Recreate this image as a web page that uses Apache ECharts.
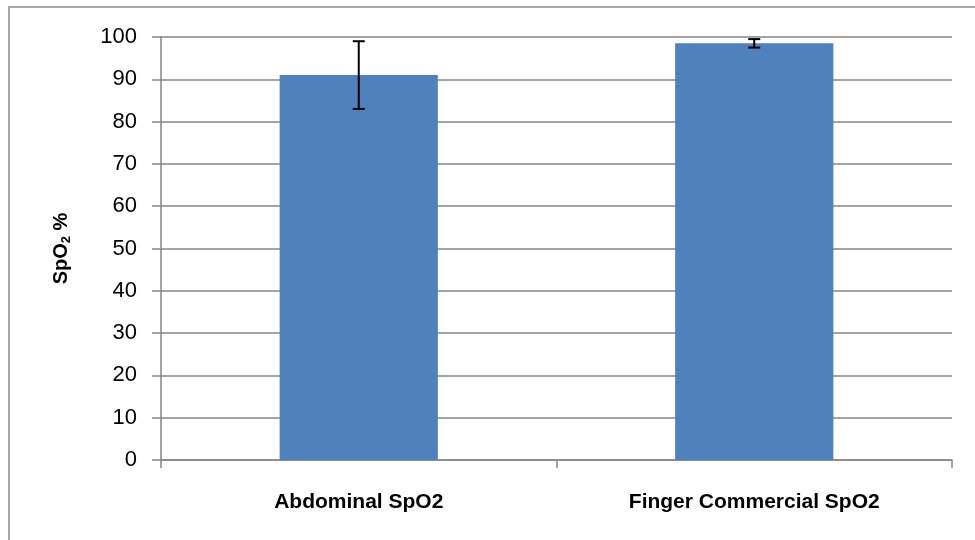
<!DOCTYPE html>
<html lang="en">
<head>
    <meta charset="UTF-8">
    <title>SpO2</title>
    <script src="https://cdn.jsdelivr.net/npm/echarts@6/dist/echarts.min.js"></script>
</head>
<style>
html,body{margin:0;padding:0;background-color:#fff}
#chartBox{width:975px;height:540px}
</style>
<body>
    <div id="chartBox"></div>
</body>
<script>
// data
var categories = ['Abdominal SpO2', 'Finger Commercial SpO2'];
var meanValues = [91, 98.5];
var errValues = [8, 1];
var yTicks = [0, 10, 20, 30, 40, 50, 60, 70, 80, 90, 100];

var fontName = '"Liberation Sans", Arial, sans-serif';

var chartObj = echarts.init(document.getElementById('chartBox'));

var option = {
    animation: false,
    backgroundColor: '#fff',
    graphic: [{
        type: 'rect',
        shape: {x: 9, y: 7, width: 1000, height: 600},
        style: {fill: 'none', stroke: '#8c8c8c', lineWidth: 1.5},
        silent: true
    }],
    grid: {left: 161, right: 23, top: 37, bottom: 80},
    xAxis: {
        type: 'category',
        data: categories,
        axisLine: {lineStyle: {color: '#868686', width: 1.5}},
        axisTick: {show: true, length: 8, lineStyle: {color: '#868686', width: 1.5}},
        axisLabel: {
            margin: 32,
            fontFamily: fontName,
            fontWeight: 'bold',
            fontSize: 21,
            color: '#000'
        }
    },
    yAxis: {
        type: 'value',
        min: yTicks[0],
        max: yTicks[yTicks.length - 1],
        interval: 10,
        name: '{main|SpO}{sub|2}{main| %}',
        nameLocation: 'middle',
        nameRotate: 90,
        nameGap: 88,
        nameTextStyle: {
            rich: {
                main: {fontFamily: fontName, fontWeight: 'bold', fontSize: 20, color: '#000'},
                sub: {fontFamily: fontName, fontWeight: 'bold', fontSize: 13, color: '#000', padding: [10, 0, 0, 0]}
            }
        },
        axisLine: {show: true, lineStyle: {color: '#868686', width: 1.5}},
        axisTick: {show: true, length: 9, lineStyle: {color: '#868686', width: 1.5}},
        axisLabel: {
            margin: 24,
            fontFamily: fontName,
            fontSize: 22,
            color: '#000'
        },
        splitLine: {lineStyle: {color: '#868686', width: 1.5}}
    },
    series: [
        {
            type: 'bar',
            data: meanValues,
            barWidth: '40%',
            itemStyle: {color: '#4f81bd'}
        },
        {
            type: 'custom',
            data: meanValues.map(function (v, i) { return [i, v - errValues[i], v + errValues[i]]; }),
            renderItem: function (params, api) {
                var lo = api.coord([api.value(0), api.value(1)]);
                var hi = api.coord([api.value(0), api.value(2)]);
                var half = 6;
                var st = {stroke: '#000', lineWidth: 2};
                return {
                    type: 'group',
                    children: [
                        {type: 'line', shape: {x1: hi[0], y1: hi[1], x2: lo[0], y2: lo[1]}, style: st},
                        {type: 'line', shape: {x1: hi[0] - half, y1: hi[1], x2: hi[0] + half, y2: hi[1]}, style: st},
                        {type: 'line', shape: {x1: lo[0] - half, y1: lo[1], x2: lo[0] + half, y2: lo[1]}, style: st}
                    ]
                };
            },
            z: 10
        }
    ]
};

chartObj.setOption(option);
</script>
</html>
